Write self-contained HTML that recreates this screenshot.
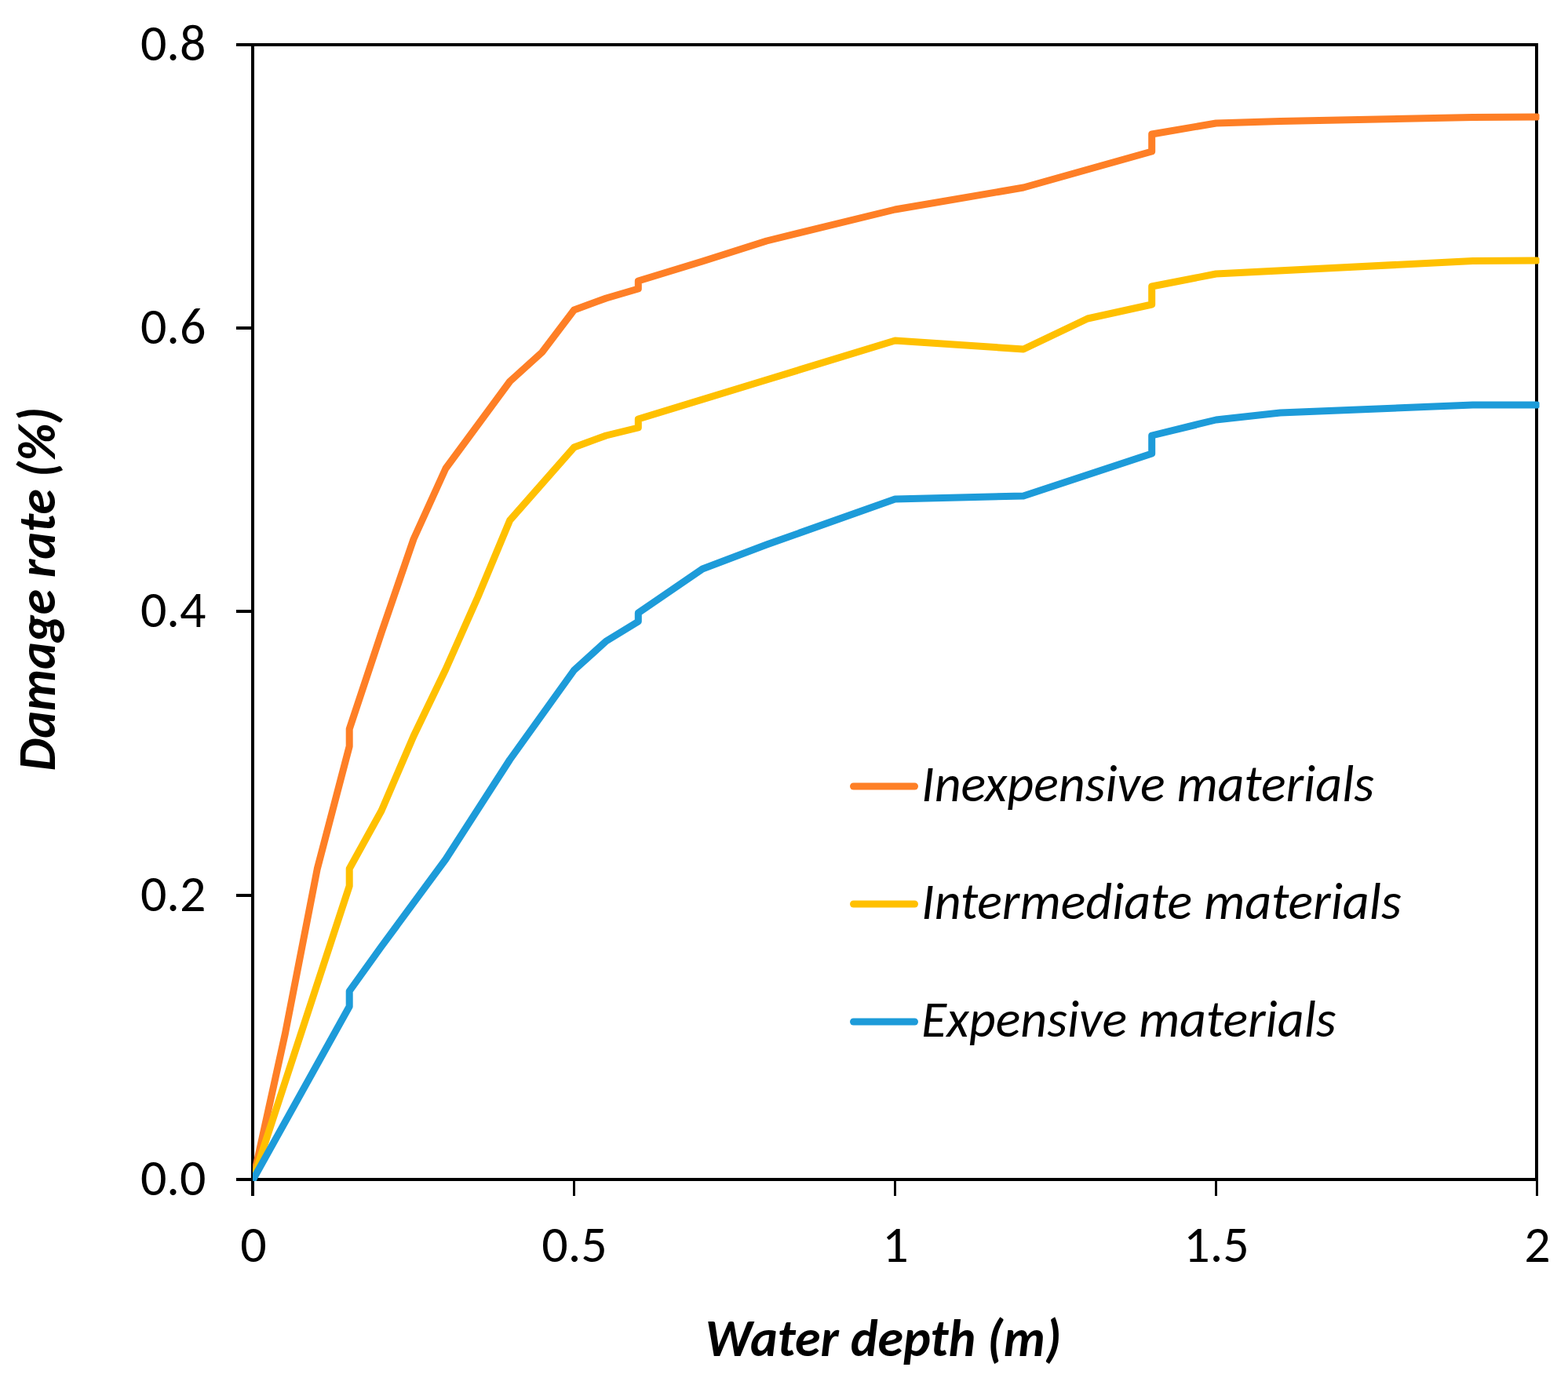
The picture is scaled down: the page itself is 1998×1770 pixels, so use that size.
<!DOCTYPE html>
<html><head><meta charset="utf-8"><title>Damage rate vs water depth</title>
<style>
html,body{margin:0;padding:0;background:#fff;width:1998px;height:1770px;overflow:hidden}
svg{display:block}
text{font-family:Calibri, Carlito, 'Liberation Sans', sans-serif;fill:#000}
.tk{font-size:66px}
.lg{font-size:66px;font-style:italic}
.ax{font-size:66px;font-style:italic;font-weight:bold}
</style></head><body>
<svg width="1998" height="1770" viewBox="0 0 1998 1770">
<rect x="0" y="0" width="1998" height="1770" fill="#fff"/>
<rect x="322" y="57" width="1636" height="1446" fill="none" stroke="#000" stroke-width="4"/>
<line x1="301" y1="1503" x2="322" y2="1503" stroke="#000" stroke-width="4"/>
<text x="262.5" y="1522.5" text-anchor="end" class="tk" textLength="83.58" lengthAdjust="spacingAndGlyphs">0.0</text>
<line x1="301" y1="1141" x2="322" y2="1141" stroke="#000" stroke-width="4"/>
<text x="262.5" y="1160.5" text-anchor="end" class="tk" textLength="83.58" lengthAdjust="spacingAndGlyphs">0.2</text>
<line x1="301" y1="779" x2="322" y2="779" stroke="#000" stroke-width="4"/>
<text x="262.5" y="798.5" text-anchor="end" class="tk" textLength="83.58" lengthAdjust="spacingAndGlyphs">0.4</text>
<line x1="301" y1="418" x2="322" y2="418" stroke="#000" stroke-width="4"/>
<text x="262.5" y="437.5" text-anchor="end" class="tk" textLength="83.58" lengthAdjust="spacingAndGlyphs">0.6</text>
<line x1="301" y1="57" x2="322" y2="57" stroke="#000" stroke-width="4"/>
<text x="262.5" y="76.5" text-anchor="end" class="tk" textLength="83.58" lengthAdjust="spacingAndGlyphs">0.8</text>
<line x1="322" y1="1503" x2="322" y2="1524" stroke="#000" stroke-width="4"/>
<text x="323.0" y="1608" text-anchor="middle" class="tk" textLength="33.45" lengthAdjust="spacingAndGlyphs">0</text>
<line x1="731.5" y1="1503" x2="731.5" y2="1524" stroke="#000" stroke-width="3"/>
<text x="732.0" y="1608" text-anchor="middle" class="tk" textLength="83.58" lengthAdjust="spacingAndGlyphs">0.5</text>
<line x1="1140.5" y1="1503" x2="1140.5" y2="1524" stroke="#000" stroke-width="3"/>
<text x="1141.0" y="1608" text-anchor="middle" class="tk" textLength="33.45" lengthAdjust="spacingAndGlyphs">1</text>
<line x1="1549.5" y1="1503" x2="1549.5" y2="1524" stroke="#000" stroke-width="3"/>
<text x="1550.0" y="1608" text-anchor="middle" class="tk" textLength="83.58" lengthAdjust="spacingAndGlyphs">1.5</text>
<line x1="1958.5" y1="1503" x2="1958.5" y2="1524" stroke="#000" stroke-width="3"/>
<text x="1959.0" y="1608" text-anchor="middle" class="tk" textLength="33.45" lengthAdjust="spacingAndGlyphs">2</text>
<defs><clipPath id="pa"><rect x="322" y="40" width="1639.5" height="1465"/></clipPath></defs>
<g clip-path="url(#pa)">
<path d="M322.5,1503.0 L363.4,1317.0 L404.3,1107.0 L445.2,951.0 L445.2,929.0 L486.1,806.0 L527.0,687.0 L567.9,597.0 L649.7,486.0 L690.6,449.0 L731.5,395.0 L772.4,380.0 L813.3,368.0 L813.3,358.0 L895.1,333.0 L976.9,307.0 L1140.5,267.0 L1304.1,239.0 L1467.7,193.0 L1467.7,171.0 L1549.5,157.0 L1631.3,154.5 L1876.7,149.5 L1958.5,149.0" fill="none" stroke="#FE7F26" stroke-width="9" stroke-linejoin="round" stroke-linecap="round"/>
<path d="M322.5,1503.0 L445.2,1129.0 L445.2,1107.0 L486.1,1033.0 L527.0,938.0 L567.9,853.0 L608.8,761.0 L649.7,663.0 L731.5,570.0 L772.4,555.0 L813.3,545.0 L813.3,534.0 L976.9,484.0 L1140.5,434.0 L1304.1,445.0 L1385.9,406.0 L1467.7,388.0 L1467.7,365.0 L1549.5,349.0 L1876.7,332.5 L1958.5,332.0" fill="none" stroke="#FFC000" stroke-width="9" stroke-linejoin="round" stroke-linecap="round"/>
<path d="M322.5,1503.0 L445.2,1282.5 L445.2,1263.0 L486.1,1206.0 L567.9,1095.0 L649.7,968.0 L731.5,854.0 L772.4,817.0 L813.3,792.0 L813.3,781.0 L895.1,725.0 L976.9,694.0 L1140.5,636.0 L1304.1,632.0 L1467.7,578.0 L1467.7,555.0 L1549.5,535.0 L1631.3,526.0 L1876.7,516.0 L1958.5,516.0" fill="none" stroke="#1D9BD9" stroke-width="9" stroke-linejoin="round" stroke-linecap="round"/>
</g>
<line x1="1087.5" y1="1002" x2="1165.5" y2="1002" stroke="#FE7F26" stroke-width="9" stroke-linecap="round"/>
<text x="1174" y="1020.5" class="lg" textLength="576.98" lengthAdjust="spacingAndGlyphs">Inexpensive materials</text>
<line x1="1087.5" y1="1152" x2="1165.5" y2="1152" stroke="#FFC000" stroke-width="9" stroke-linecap="round"/>
<text x="1174" y="1170.5" class="lg" textLength="611.64" lengthAdjust="spacingAndGlyphs">Intermediate materials</text>
<line x1="1087.5" y1="1302" x2="1165.5" y2="1302" stroke="#1D9BD9" stroke-width="9" stroke-linecap="round"/>
<text x="1174" y="1320.5" class="lg" textLength="528.48" lengthAdjust="spacingAndGlyphs">Expensive materials</text>
<text x="898.5" y="1728" class="ax" textLength="453.8" lengthAdjust="spacingAndGlyphs">Water depth (m)</text>
<text transform="translate(70,750.7) rotate(-90)" text-anchor="middle" class="ax" textLength="463.45" lengthAdjust="spacingAndGlyphs">Damage rate (%)</text>
</svg>
</body></html>
